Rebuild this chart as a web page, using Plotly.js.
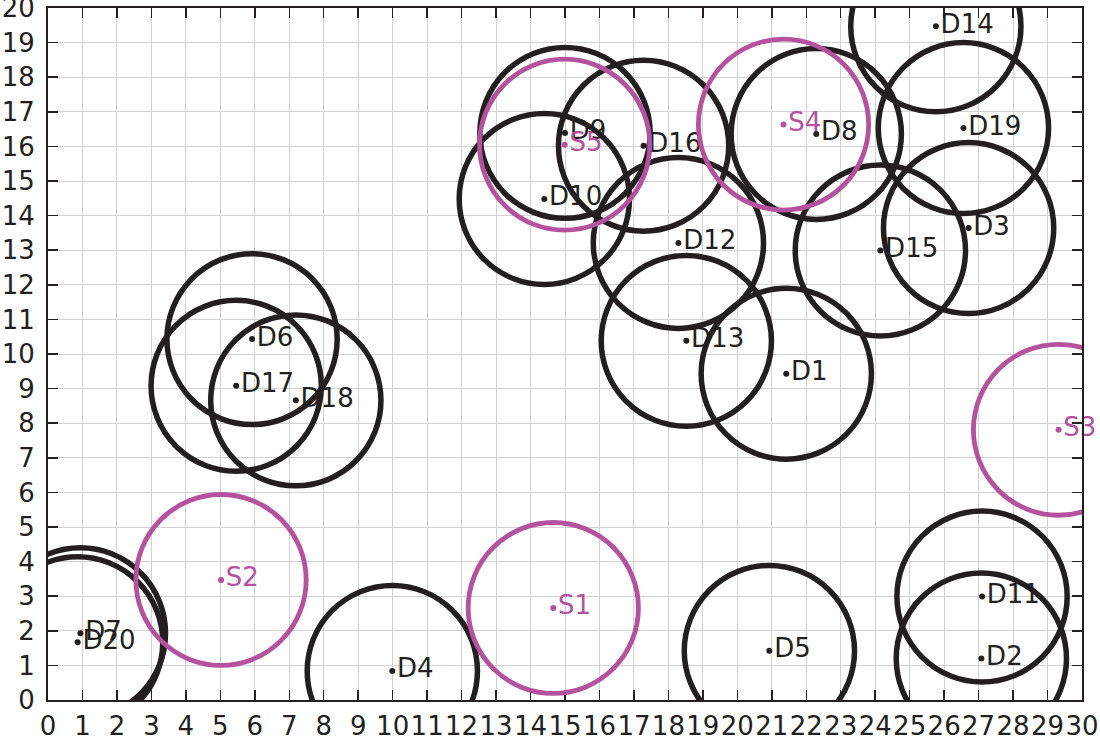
<!DOCTYPE html>
<html>
<head>
<meta charset="utf-8">
<script src="https://cdn.plot.ly/plotly-3.0.1.min.js"></script>
<style>html,body{margin:0;padding:0;background:#fff;}#chart{width:1100px;height:740px;}</style>
</head>
<body>
<div id="chart"></div>
<script>
// Demand points (black)
const dNames = ['D1','D2','D3','D4','D5','D6','D7','D8','D9','D10','D11','D12','D13','D14','D15','D16','D17','D18','D19','D20'];
const dX = [21.42, 27.08, 26.71, 9.99, 20.93, 5.92, 0.94, 22.29, 15.00, 14.40, 27.10, 18.29, 18.52, 25.76, 24.15, 17.28, 5.46, 7.19, 26.56, 0.86];
const dY = [9.43, 1.20, 13.64, 0.84, 1.42, 10.43, 1.93, 16.36, 16.39, 14.48, 2.99, 13.21, 10.38, 19.47, 12.99, 16.02, 9.08, 8.66, 16.53, 1.67];
// Stations (magenta)
const sNames = ['S1','S2','S3','S4','S5'];
const sX = [14.66, 5.02, 29.32, 21.34, 14.99];
const sY = [2.66, 3.47, 7.81, 16.63, 16.05];
const radius = 2.47;
// Tick values / labels
const xTicks = [0,1,2,3,4,5,6,7,8,9,10,11,12,13,14,15,16,17,18,19,20,21,22,23,24,25,26,27,28,29,30];
const yTicks = [0,1,2,3,4,5,6,7,8,9,10,11,12,13,14,15,16,17,18,19,20];

const black = '#231f20';
const magenta = '#b5519f';
const fontFam = 'DejaVu Sans, Arial, sans-serif';

const shapes = [];
for (let i = 0; i < dX.length; i++) {
  shapes.push({type:'circle', xref:'x', yref:'y', layer:'above',
    x0:dX[i]-radius, x1:dX[i]+radius, y0:dY[i]-radius, y1:dY[i]+radius,
    line:{color:black, width:5.5}});
}
for (let i = 0; i < sX.length; i++) {
  shapes.push({type:'circle', xref:'x', yref:'y', layer:'above',
    x0:sX[i]-radius, x1:sX[i]+radius, y0:sY[i]-radius, y1:sY[i]+radius,
    line:{color:magenta, width:4.8}});
}

const traces = [
  {x:dX, y:dY, text:dNames, mode:'markers+text', type:'scatter', textposition:'middle right',
   marker:{color:black, size:6}, textfont:{family:fontFam, size:26, color:black}, hoverinfo:'none', cliponaxis:false},
  {x:sX, y:sY, text:sNames, mode:'markers+text', type:'scatter', textposition:'middle right',
   marker:{color:magenta, size:6}, textfont:{family:fontFam, size:26, color:magenta}, hoverinfo:'none', cliponaxis:false}
];

const axisCommon = {
  showline:true, linecolor:black, linewidth:2, mirror:'ticks',
  ticks:'inside', ticklen:10, tickwidth:1.5, tickcolor:black,
  showgrid:true, gridcolor:'#d2d2d2', gridwidth:1, zeroline:false,
  tickmode:'array', tickangle:0, ticklabeloverflow:'allow',
  tickfont:{family:fontFam, size:26, color:black}
};

const layout = {
  width:1100, height:740,
  margin:{l:48, r:18, t:8, b:40},
  paper_bgcolor:'#ffffff', plot_bgcolor:'#ffffff',
  showlegend:false,
  xaxis:Object.assign({}, axisCommon, {range:[0,30], tickvals:xTicks, ticktext:xTicks.map(String), ticklabelstandoff:2}),
  yaxis:Object.assign({}, axisCommon, {range:[0,20], tickvals:yTicks, ticktext:yTicks.map(String), ticklabelstandoff:6}),
  shapes:shapes
};

Plotly.newPlot('chart', traces, layout, {displayModeBar:false, staticPlot:true});
</script>
</body>
</html>
